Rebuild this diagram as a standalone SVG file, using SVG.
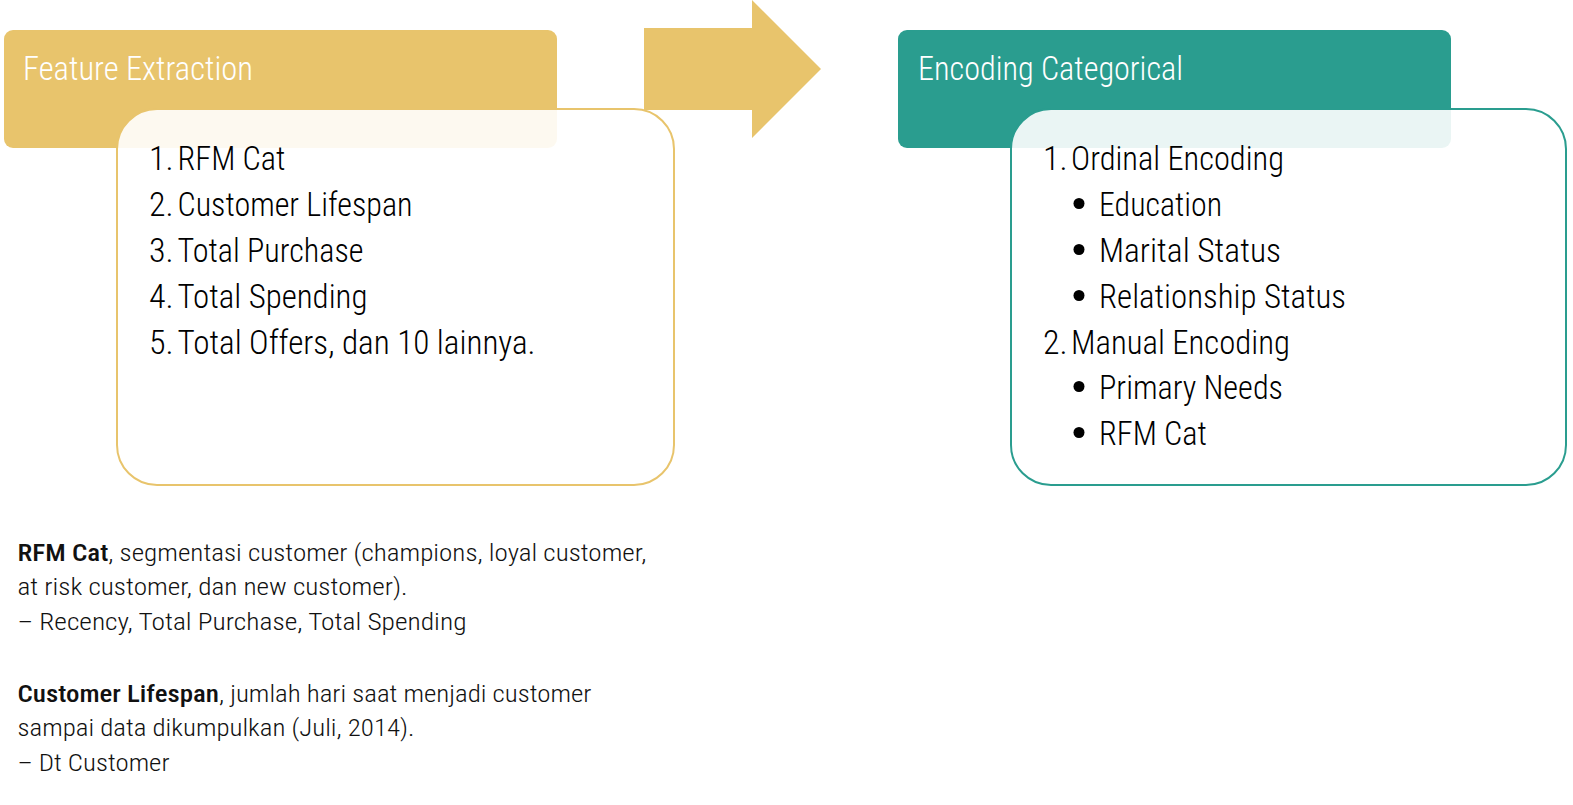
<svg xmlns="http://www.w3.org/2000/svg" width="1573" height="805" viewBox="0 0 1573 805">
  <style>
    text { font-family: "Roboto Condensed", "Liberation Sans Narrow", "Roboto", "Liberation Sans", sans-serif; font-stretch: condensed; font-weight: 300; }
    .hdr { font-size: 34px; fill: #ffffff; }
    .item { font-size: 34px; fill: #000000; }
    .note { font-size: 24px; fill: #111111; }
    .b { font-weight: 500; }
    .gold { fill: #E8C46C; }
    .teal { fill: #2A9D8F; }
    .boxg { fill: #ffffff; fill-opacity: 0.9; stroke: #E8C46C; stroke-width: 2; }
    .boxt { fill: #ffffff; fill-opacity: 0.9; stroke: #2A9D8F; stroke-width: 2; }
  </style>
  <rect width="1573" height="805" fill="#ffffff"/>

  <g id="connectors">
    <polygon class="gold" points="644,28 752,28 752,0 821,69 752,138 752,110 644,110"/>
  </g>

  <g id="node-feature-extraction">
    <rect class="gold" x="4" y="30" width="553" height="118" rx="9"/>
    <text class="hdr" x="23" y="80" textLength="230" lengthAdjust="spacingAndGlyphs">Feature Extraction</text>
    <rect class="boxg" x="117" y="109" width="557" height="376" rx="40"/>
    <text class="item" x="149" y="170">1.</text>
    <text class="item" x="177.5" y="170" textLength="108" lengthAdjust="spacingAndGlyphs">RFM Cat</text>
    <text class="item" x="149" y="216">2.</text>
    <text class="item" x="177.5" y="216" textLength="235" lengthAdjust="spacingAndGlyphs">Customer Lifespan</text>
    <text class="item" x="149" y="262">3.</text>
    <text class="item" x="177.5" y="262" textLength="186" lengthAdjust="spacingAndGlyphs">Total Purchase</text>
    <text class="item" x="149" y="308">4.</text>
    <text class="item" x="177.5" y="308" textLength="190" lengthAdjust="spacingAndGlyphs">Total Spending</text>
    <text class="item" x="149" y="354">5.</text>
    <text class="item" x="177.5" y="354" textLength="358" lengthAdjust="spacingAndGlyphs">Total Offers, dan 10 lainnya.</text>
  </g>

  <g id="node-encoding-categorical">
    <rect class="teal" x="898" y="30" width="553" height="118" rx="9"/>
    <text class="hdr" x="918" y="80" textLength="265" lengthAdjust="spacingAndGlyphs">Encoding Categorical</text>
    <rect class="boxt" x="1011" y="109" width="555" height="376" rx="40"/>
    <text class="item" x="1043" y="170">1.</text>
    <text class="item" x="1071" y="170" textLength="213" lengthAdjust="spacingAndGlyphs">Ordinal Encoding</text>
    <circle cx="1079" cy="203.5" r="5.5" fill="#000"/>
    <text class="item" x="1099" y="216" textLength="123" lengthAdjust="spacingAndGlyphs">Education</text>
    <circle cx="1079" cy="249.5" r="5.5" fill="#000"/>
    <text class="item" x="1099" y="262" textLength="182" lengthAdjust="spacingAndGlyphs">Marital Status</text>
    <circle cx="1079" cy="295.5" r="5.5" fill="#000"/>
    <text class="item" x="1099" y="308" textLength="247" lengthAdjust="spacingAndGlyphs">Relationship Status</text>
    <text class="item" x="1043" y="353.5">2.</text>
    <text class="item" x="1071" y="353.5" textLength="219" lengthAdjust="spacingAndGlyphs">Manual Encoding</text>
    <circle cx="1079" cy="386.5" r="5.5" fill="#000"/>
    <text class="item" x="1099" y="399" textLength="184" lengthAdjust="spacingAndGlyphs">Primary Needs</text>
    <circle cx="1079" cy="432.5" r="5.5" fill="#000"/>
    <text class="item" x="1099" y="445" textLength="108" lengthAdjust="spacingAndGlyphs">RFM Cat</text>
  </g>

  <g id="notes">
    <text class="note" x="17.5" y="560.5" textLength="629" lengthAdjust="spacingAndGlyphs"><tspan class="b">RFM Cat</tspan>, segmentasi customer (champions, loyal customer,</text>
    <text class="note" x="17.5" y="595" textLength="390" lengthAdjust="spacingAndGlyphs">at risk customer, dan new customer).</text>
    <text class="note" x="17.5" y="629.5" textLength="449" lengthAdjust="spacingAndGlyphs">– Recency, Total Purchase, Total Spending</text>
    <text class="note" x="17.5" y="701.5" textLength="574" lengthAdjust="spacingAndGlyphs"><tspan class="b">Customer Lifespan</tspan>, jumlah hari saat menjadi customer</text>
    <text class="note" x="17.5" y="736" textLength="397" lengthAdjust="spacingAndGlyphs">sampai data dikumpulkan (Juli, 2014).</text>
    <text class="note" x="17.5" y="770.5" textLength="152" lengthAdjust="spacingAndGlyphs">– Dt Customer</text>
  </g>
</svg>
